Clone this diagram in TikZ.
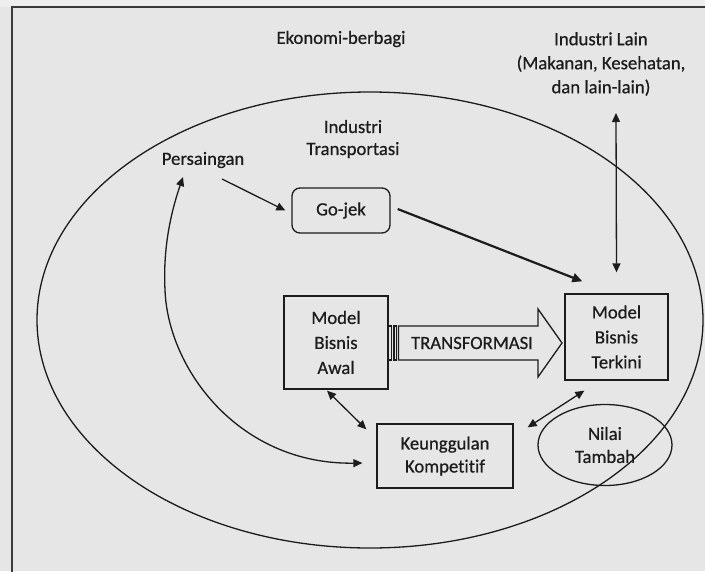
\documentclass[tikz,border=0pt]{standalone}
\usepackage{fontspec}
\setmainfont[Ligatures=NoCommon,FakeBold=0.6]{Carlito}
\usetikzlibrary{arrows.meta,shapes.geometric}
\definecolor{bg}{HTML}{E6E6E6}
\definecolor{bgtop}{HTML}{EEEEEE}
\definecolor{ink}{HTML}{1C1C1C}
\definecolor{framec}{HTML}{3A3A3A}
\begin{document}
\begin{tikzpicture}[x=1pt,y=-1pt,
  every node/.style={font=\fontsize{18.7}{22}\selectfont, text=ink, inner sep=0pt},
  txt/.style={align=center},
  box/.style={draw=ink, line width=1.3pt, align=center},
  conn/.style={draw=ink, line width=1.3pt},
  tip/.style={-{Triangle[length=9pt,width=8pt]}},
  dtip/.style={{Triangle[length=9pt,width=8pt]}-{Triangle[length=9pt,width=8pt]}}]
\useasboundingbox (0,0) rectangle (705,571);
\fill[bg] (0,0) rectangle (705,571);
\fill[bgtop] (0,0) rectangle (705,7);
\draw[framec, line width=1.5pt] (12,575) -- (12,7) -- (710,7);

% text labels
\node[txt] (eko) at (341,39) {Ekonomi-berbagi};
\node[txt, font=\fontsize{18.7}{24}\selectfont] (lain) at (601,64) {Industri Lain\\(Makanan, Kesehatan,\\dan lain-lain)};
\node[txt] (indtrans) at (353,139) {Industri\\Transportasi};
\node[txt] (pers) at (203,160) {Persaingan};

% boxes
\node[box, rounded corners=8pt, minimum width=98pt, minimum height=45pt] (gojek) at (341,210.5) {Go-jek};
\node[box, minimum width=104pt, minimum height=93pt, font=\fontsize{18.7}{25}\selectfont] (awal) at (336,342.5) {Model\\Bisnis\\Awal};
\node[box, minimum width=103pt, minimum height=86pt, font=\fontsize{18.7}{25}\selectfont] (terkini) at (616.5,337) {Model\\Bisnis\\Terkini};
\node[box, minimum width=136pt, minimum height=64pt, font=\fontsize{18.7}{23}\selectfont] (keung) at (445,456) {Keunggulan\\Kompetitif};
\node[box, ellipse, minimum width=134pt, minimum height=81pt, font=\fontsize{18.7}{23}\selectfont] (nilai) at (605,445) {Nilai\\Tambah};

% transformation block arrow
\draw[conn] (388.5,326) rectangle (391.5,360);
\draw[conn] (394,326) rectangle (396.5,360);
\draw[conn, line join=miter] (398.5,326) -- (538,326) -- (538,309) -- (562,343) -- (538,377) -- (538,360) -- (398.5,360) -- cycle;
\node[txt] (trans) at (472,343) {TRANSFORMASI};

% big ellipse
\draw[conn] (370,320) ellipse [x radius=333pt, y radius=228pt];

% connectors
\draw[conn,tip] ([xshift=19pt,yshift=-19pt]pers.center) -- ([xshift=-6pt]gojek.west);
\draw[conn,-{Triangle[length=10pt,width=9pt]},line width=2.2pt] ([xshift=7pt,yshift=1.5pt]gojek.east) -- ([xshift=18pt,yshift=12pt]terkini.north west);
\draw[conn,dtip] ([xshift=15pt,yshift=-49pt]lain.center) -- ([yshift=21pt]terkini.north);
\draw[conn,dtip] ([xshift=-9pt,yshift=-1pt]awal.south) -- ([xshift=-10pt,yshift=-6pt]keung.north west);
\draw[conn,dtip] ([xshift=20pt,yshift=-10pt]terkini.south west) -- ([xshift=14pt,yshift=-4pt]keung.north east);
\draw[conn,dtip] ([xshift=-20pt,yshift=-17pt]pers.center) .. controls (170,215) and (163,250) .. (165,290) .. controls (168,370) and (240,465) .. ([xshift=-14pt,yshift=-7pt]keung.west);
\end{tikzpicture}
\end{document}
